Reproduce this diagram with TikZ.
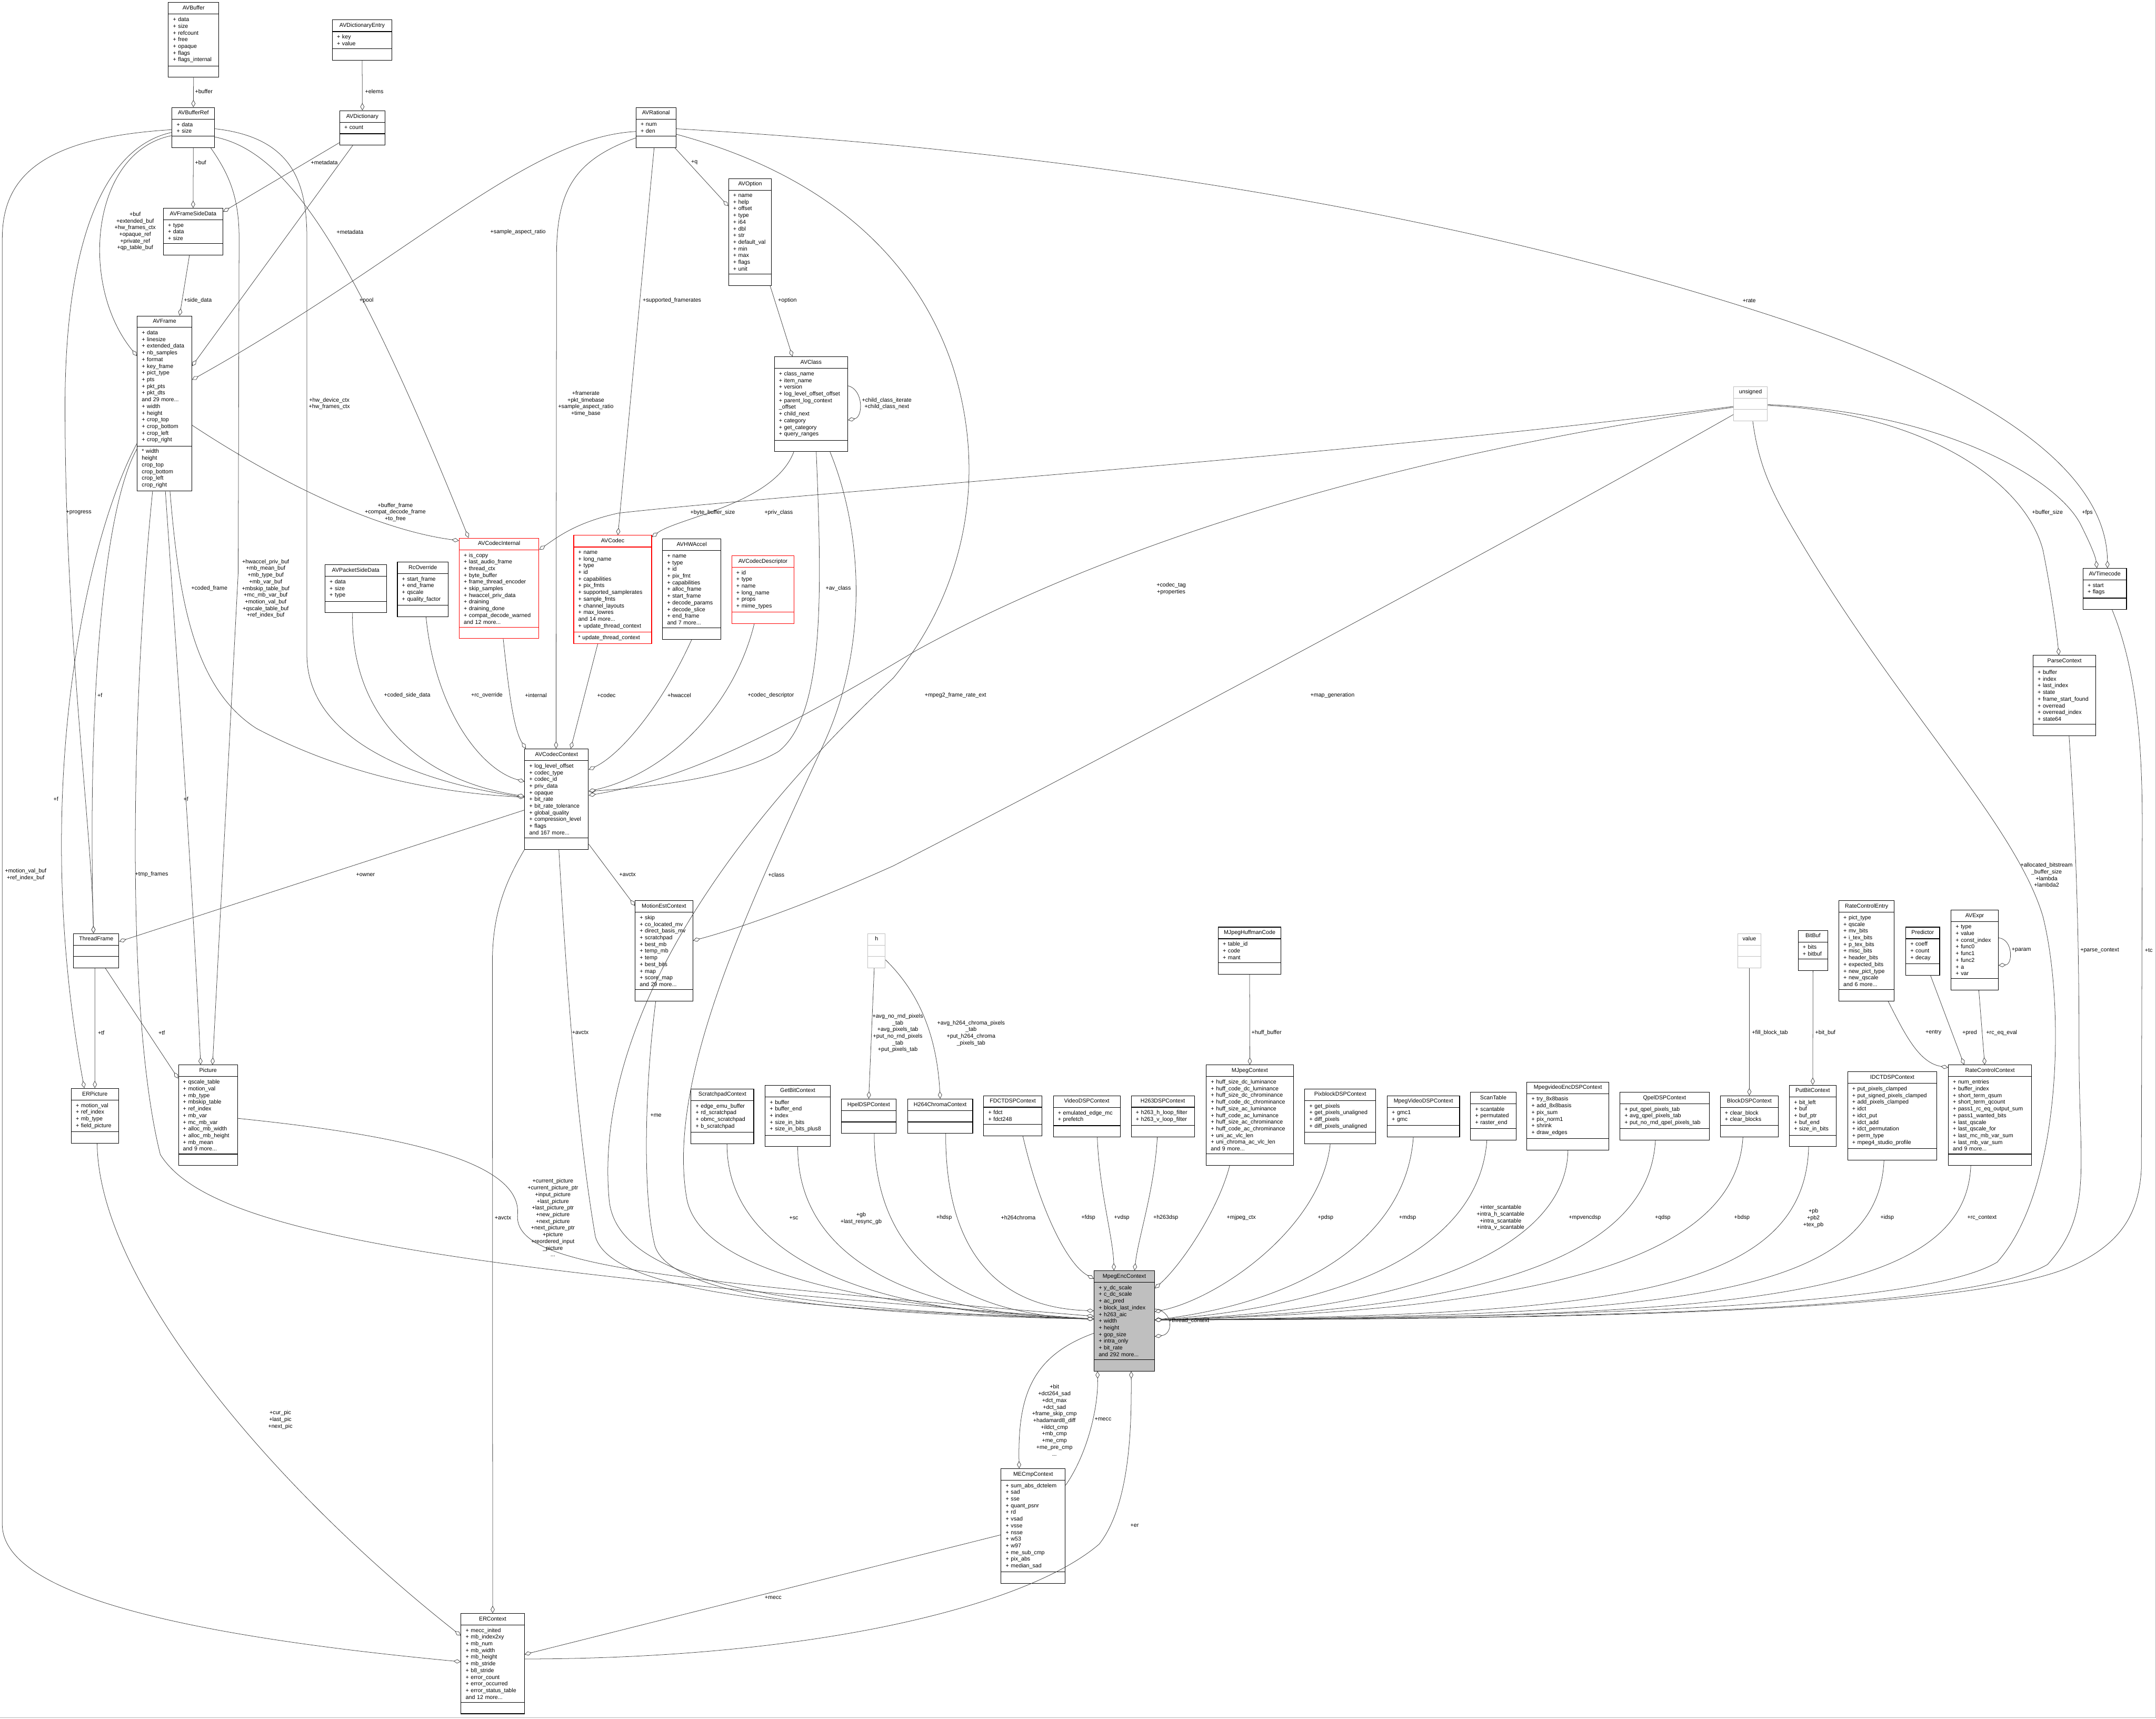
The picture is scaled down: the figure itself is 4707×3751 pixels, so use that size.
\documentclass[tikz,border=0pt]{standalone}
\usepackage{fontspec}
\setmainfont{Liberation Sans}
\usetikzlibrary{arrows.meta,calc,shapes.multipart}
\hyphenpenalty=10000
\exhyphenpenalty=10000
\newcommand\dxfont{\fontsize{7pt}{8.31pt}\selectfont}
\newcommand\nil{\vphantom{Ag}}
\newcommand\ctitle[1]{\centering #1\par}
\tikzset{
  cls/.style={rectangle split, rectangle split parts=3, draw=black, line width=0.7pt,
    fill=white, anchor=north west, inner xsep=2mm, inner ysep=3.6pt,
    font=\dxfont, execute at begin node=\nil,
    rectangle split empty part height=5pt, rectangle split empty part depth=1.5pt},
  redcls/.style={cls, draw=red},
  extcls/.style={cls, draw=black!25},
  hubcls/.style={cls, fill=black!25},
  agg/.style={draw=black!75, line width=0.5pt,
    -{Diamond[fill=white, length=3.2mm, width=1.8mm]}},
  elabel/.style={font=\dxfont, align=center, inner sep=0pt},
}
\begin{document}
\catcode`\_=12
\begin{tikzpicture}[x=0.2mm, y=-0.2mm]
  \useasboundingbox (0,0) rectangle (4707,3751);
  \draw[black!30, line width=0.6pt] (0,3749) -- (4706,3749) -- (4706,0);

  % classes, top part
  \node[cls, text width=18mm] (avbuffer) at (367,5) {\ctitle{AVBuffer}\nodepart{two}\nil+ data\\+ size\\+ refcount\\+ free\\+ opaque\\+ flags\\+ flags_internal\nodepart{three}\nil};
  \node[cls, text width=22mm] (avdictentry) at (725,43) {\ctitle{AVDictionaryEntry}\nodepart{two}\nil+ key\\+ value\nodepart{three}\nil};
  \node[cls, text width=14.6mm] (avbufref) at (375,234) {\ctitle{AVBufferRef}\nodepart{two}\nil+ data\\+ size\nodepart{three}\nil};
  \node[cls, text width=15.8mm] (avdict) at (741,241) {\ctitle{AVDictionary}\nodepart{two}\nil+ count\nodepart{three}\nil};
  \node[cls, text width=22mm] (sidedata) at (356,454) {\ctitle{AVFrameSideData}\nodepart{two}\nil+ type\\+ data\\+ size\nodepart{three}\nil};
  \node[cls, text width=19.8mm] (avframe) at (299,689) {\ctitle{AVFrame}\nodepart{two}\nil+ data\\+ linesize\\+ extended_data\\+ nb_samples\\+ format\\+ key_frame\\+ pict_type\\+ pts\\+ pkt_pts\\+ pkt_dts\\and 29 more...\\+ width\\+ height\\+ crop_top\\+ crop_bottom\\+ crop_left\\+ crop_right\nodepart{three}\nil* width\\* height\\* crop_top\\* crop_bottom\\* crop_left\\* crop_right};
  \node[cls, text width=13.4mm] (avrational) at (1388,234) {\ctitle{AVRational}\nodepart{two}\nil+ num\\+ den\nodepart{three}\nil};
  \node[cls, text width=14.8mm] (avoption) at (1590,389) {\ctitle{AVOption}\nodepart{two}\nil+ name\\+ help\\+ offset\\+ type\\+ i64\\+ dbl\\+ str\\+ default_val\\+ min\\+ max\\+ flags\\+ unit\nodepart{three}\nil};
  \node[cls, text width=28mm] (avclass) at (1690,778) {\ctitle{AVClass}\nodepart{two}\nil+ class_name\\+ item_name\\+ version\\+ log_level_offset_offset\\+ parent_log_context\\_offset\\+ child_next\\+ category\\+ get_category\\+ query_ranges\nodepart{three}\nil};
  \node[extcls, text width=10.8mm] (unsigned) at (3784,843) {\ctitle{unsigned}\nodepart{two}\nil\nodepart{three}\nil};
  \node[cls, text width=15mm] (avtimecode) at (4547,1240) {\ctitle{AVTimecode}\nodepart{two}\nil+ start\\+ flags\nodepart{three}\nil};
  \node[cls, text width=23.4mm] (parsectx) at (4438,1430) {\ctitle{ParseContext}\nodepart{two}\nil+ buffer\\+ index\\+ last_index\\+ state\\+ frame_start_found\\+ overread\\+ overread_index\\+ state64\nodepart{three}\nil};

  % codec layer
  \node[redcls, text width=30.8mm] (avcodecinternal) at (1002,1174) {\ctitle{AVCodecInternal}\nodepart{two}\nil+ is_copy\\+ last_audio_frame\\+ thread_ctx\\+ byte_buffer\\+ frame_thread_encoder\\+ skip_samples\\+ hwaccel_priv_data\\+ draining\\+ draining_done\\+ compat_decode_warned\\and 12 more...\nodepart{three}\nil};
  \node[cls, text width=22.8mm] (pktsidedata) at (709,1232) {\ctitle{AVPacketSideData}\nodepart{two}\nil+ data\\+ size\\+ type\nodepart{three}\nil};
  \node[cls, text width=18.2mm] (rcoverride) at (867,1226) {\ctitle{RcOverride}\nodepart{two}\nil+ start_frame\\+ end_frame\\+ qscale\\+ quality_factor\nodepart{three}\nil};
  \node[redcls, text width=30mm] (avcodec) at (1252,1168) {\ctitle{AVCodec}\nodepart{two}\nil+ name\\+ long_name\\+ type\\+ id\\+ capabilities\\+ pix_fmts\\+ supported_samplerates\\+ sample_fmts\\+ channel_layouts\\+ max_lowres\\and 14 more...\\+ update_thread_context\nodepart{three}\nil* update_thread_context};
  \node[cls, text width=21.4mm] (avhwaccel) at (1446,1176) {\ctitle{AVHWAccel}\nodepart{two}\nil+ name\\+ type\\+ id\\+ pix_fmt\\+ capabilities\\+ alloc_frame\\+ start_frame\\+ decode_params\\+ decode_slice\\+ end_frame\\and 7 more...\nodepart{three}\nil};
  \node[redcls, text width=23.2mm] (avcodecdesc) at (1597,1212) {\ctitle{AVCodecDescriptor}\nodepart{two}\nil+ id\\+ type\\+ name\\+ long_name\\+ props\\+ mime_types\nodepart{three}\nil};
  \node[cls, text width=23.8mm] (avcodecctx) at (1145,1634) {\ctitle{AVCodecContext}\nodepart{two}\nil+ log_level_offset\\+ codec_type\\+ codec_id\\+ priv_data\\+ opaque\\+ bit_rate\\+ bit_rate_tolerance\\+ global_quality\\+ compression_level\\+ flags\\and 167 more...\nodepart{three}\nil};

  % middle row
  \node[cls, text width=15.8mm] (threadframe) at (160,2037) {\ctitle{ThreadFrame}\nodepart{two}\nil\nodepart{three}\nil};
  \node[cls, text width=16.6mm] (erpicture) at (155,2375) {\ctitle{ERPicture}\nodepart{two}\nil+ motion_val\\+ ref_index\\+ mb_type\\+ field_picture\nodepart{three}\nil};
  \node[cls, text width=21.8mm] (picture) at (389,2324) {\ctitle{Picture}\nodepart{two}\nil+ qscale_table\\+ motion_val\\+ mb_type\\+ mbskip_table\\+ ref_index\\+ mb_var\\+ mc_mb_var\\+ alloc_mb_width\\+ alloc_mb_height\\+ mb_mean\\and 9 more...\nodepart{three}\nil};
  \node[cls, text width=21.2mm] (motionest) at (1386,1965) {\ctitle{MotionEstContext}\nodepart{two}\nil+ skip\\+ co_located_mv\\+ direct_basis_mv\\+ scratchpad\\+ best_mb\\+ temp_mb\\+ temp\\+ best_bits\\+ map\\+ score_map\\and 29 more...\nodepart{three}\nil};
  \node[extcls, text width=3.6mm] (hnode) at (1894,2037) {\ctitle{h}\nodepart{two}\nil\nodepart{three}\nil};
  \node[cls, text width=23.4mm] (mjpeghuff) at (2659,2023) {\ctitle{MJpegHuffmanCode}\nodepart{two}\nil+ table_id\\+ code\\+ mant\nodepart{three}\nil};
  \node[extcls, text width=7mm, inner xsep=1.6mm] (valuenode) at (3793,2037) {\ctitle{value}\nodepart{two}\nil\nodepart{three}\nil};
  \node[cls, text width=9mm] (bitbuf) at (3925,2030) {\ctitle{BitBuf}\nodepart{two}\nil+ bits\\+ bitbuf\nodepart{three}\nil};
  \node[cls, text width=20.2mm] (rcentry) at (4014,1965) {\ctitle{RateControlEntry}\nodepart{two}\nil+ pict_type\\+ qscale\\+ mv_bits\\+ i_tex_bits\\+ p_tex_bits\\+ misc_bits\\+ header_bits\\+ expected_bits\\+ new_pict_type\\+ new_qscale\\and 6 more...\nodepart{three}\nil};
  \node[cls, text width=10.8mm] (predictor) at (4160,2023) {\ctitle{Predictor}\nodepart{two}\nil+ coeff\\+ count\\+ decay\nodepart{three}\nil};
  \node[cls, text width=16.6mm] (avexpr) at (4259,1986) {\ctitle{AVExpr}\nodepart{two}\nil+ type\\+ value\\+ const_index\\+ func0\\+ func1\\+ func2\\+ a\\+ var\nodepart{three}\nil};

  % lower row
  \node[cls, text width=23.4mm] (scratchpad) at (1508,2376) {\ctitle{ScratchpadContext}\nodepart{two}\nil+ edge_emu_buffer\\+ rd_scratchpad\\+ obmc_scratchpad\\+ b_scratchpad\nodepart{three}\nil};
  \node[cls, text width=24.4mm] (getbit) at (1670,2368) {\ctitle{GetBitContext}\nodepart{two}\nil+ buffer\\+ buffer_end\\+ index\\+ size_in_bits\\+ size_in_bits_plus8\nodepart{three}\nil};
  \node[cls, text width=20mm] (hpeldsp) at (1836,2398) {\ctitle{HpelDSPContext}\nodepart{two}\nil\nodepart{three}\nil};
  \node[cls, text width=24.4mm] (h264chroma) at (1981,2398) {\ctitle{H264ChromaContext}\nodepart{two}\nil\nodepart{three}\nil};
  \node[cls, text width=21.4mm] (fdctdsp) at (2147,2391) {\ctitle{FDCTDSPContext}\nodepart{two}\nil+ fdct\\+ fdct248\nodepart{three}\nil};
  \node[cls, text width=25.2mm] (videodsp) at (2299,2391) {\ctitle{VideoDSPContext}\nodepart{two}\nil+ emulated_edge_mc\\+ prefetch\nodepart{three}\nil};
  \node[cls, text width=23.6mm] (h263dsp) at (2469,2391) {\ctitle{H263DSPContext}\nodepart{two}\nil+ h263_h_loop_filter\\+ h263_v_loop_filter\nodepart{three}\nil};
  \node[cls, text width=34mm] (mjpeg) at (2633,2324) {\ctitle{MJpegContext}\nodepart{two}\nil+ huff_size_dc_luminance\\+ huff_code_dc_luminance\\+ huff_size_dc_chrominance\\+ huff_code_dc_chrominance\\+ huff_size_ac_luminance\\+ huff_code_ac_luminance\\+ huff_size_ac_chrominance\\+ huff_code_ac_chrominance\\+ uni_ac_vlc_len\\+ uni_chroma_ac_vlc_len\\and 9 more...\nodepart{three}\nil};
  \node[cls, text width=27mm] (pixblock) at (2848,2376) {\ctitle{PixblockDSPContext}\nodepart{two}\nil+ get_pixels\\+ get_pixels_unaligned\\+ diff_pixels\\+ diff_pixels_unaligned\nodepart{three}\nil};
  \node[cls, text width=27.6mm] (mpegvideodsp) at (3028,2391) {\ctitle{MpegVideoDSPContext}\nodepart{two}\nil+ gmc1\\+ gmc\nodepart{three}\nil};
  \node[cls, text width=15.8mm] (scantable) at (3210,2383) {\ctitle{ScanTable}\nodepart{two}\nil+ scantable\\+ permutated\\+ raster_end\nodepart{three}\nil};
  \node[cls, text width=31.8mm] (mpvencdsp) at (3333,2361) {\ctitle{MpegvideoEncDSPContext}\nodepart{two}\nil+ try_8x8basis\\+ add_8x8basis\\+ pix_sum\\+ pix_norm1\\+ shrink\\+ draw_edges\nodepart{three}\nil};
  \node[cls, text width=35mm] (qpeldsp) at (3536,2383) {\ctitle{QpelDSPContext}\nodepart{two}\nil+ put_qpel_pixels_tab\\+ avg_qpel_pixels_tab\\+ put_no_rnd_qpel_pixels_tab\nodepart{three}\nil};
  \node[cls, text width=21.4mm] (blockdsp) at (3755,2391) {\ctitle{BlockDSPContext}\nodepart{two}\nil+ clear_block\\+ clear_blocks\nodepart{three}\nil};
  \node[cls, text width=16.4mm] (putbit) at (3906,2368) {\ctitle{PutBitContext}\nodepart{two}\nil+ bit_left\\+ buf\\+ buf_ptr\\+ buf_end\\+ size_in_bits\nodepart{three}\nil};
  \node[cls, text width=35mm] (idctdsp) at (4033,2339) {\ctitle{IDCTDSPContext}\nodepart{two}\nil+ put_pixels_clamped\\+ put_signed_pixels_clamped\\+ add_pixels_clamped\\+ idct\\+ idct_put\\+ idct_add\\+ idct_permutation\\+ perm_type\\+ mpeg4_studio_profile\nodepart{three}\nil};
  \node[cls, text width=32.4mm] (rcctx) at (4253,2324) {\ctitle{RateControlContext}\nodepart{two}\nil+ num_entries\\+ buffer_index\\+ short_term_qsum\\+ short_term_qcount\\+ pass1_rc_eq_output_sum\\+ pass1_wanted_bits\\+ last_qscale\\+ last_qscale_for\\+ last_mc_mb_var_sum\\+ last_mb_var_sum\\and 9 more...\nodepart{three}\nil};

  % bottom
  \node[hubcls, text width=22.4mm] (mpegenc) at (2388,2773) {\ctitle{MpegEncContext}\nodepart{two}\nil+ y_dc_scale\\+ c_dc_scale\\+ ac_pred\\+ block_last_index\\+ h263_aic\\+ width\\+ height\\+ gop_size\\+ intra_only\\+ bit_rate\\and 292 more...\nodepart{three}\nil};
  \node[cls, text width=24mm] (mecmp) at (2185,3205) {\ctitle{MECmpContext}\nodepart{two}\nil+ sum_abs_dctelem\\+ sad\\+ sse\\+ quant_psnr\\+ rd\\+ vsad\\+ vsse\\+ nsse\\+ w53\\+ w97\\+ me_sub_cmp\\+ pix_abs\\+ median_sad\nodepart{three}\nil};
  \node[cls, text width=23.6mm] (ercontext) at (1006,3521) {\ctitle{ERContext}\nodepart{two}\nil+ mecc_inited\\+ mb_index2xy\\+ mb_num\\+ mb_width\\+ mb_height\\+ mb_stride\\+ b8_stride\\+ error_count\\+ error_occurred\\+ error_status_table\\and 12 more...\nodepart{three}\nil};

  % buffers, frames, dictionaries
  \draw[agg] (avbuffer.south) -- (avbufref.north);
  \draw[agg] (avdictentry.south) -- (avdict.north);
  \draw[agg] (avbufref.south) -- (sidedata.north);
  \draw[agg] ($(avdict.south west)+(0,-6)$) -- ($(sidedata.north east)+(0,8)$);
  \draw[agg] ($(sidedata.south)+(-8,0)$) -- ($(avframe.north)+(33,0)$);
  \draw[agg] ($(avbufref.north west)+(0,62)$) .. controls (200,330) and (170,620) .. ($(avframe.north west)+(0,88)$);
  \draw[agg] ($(avdict.south)+(-21,0)$) -- ($(avframe.north east)+(0,110)$);
  \draw[agg] ($(avrational.north west)+(0,53)$) .. controls (1150,300) and (900,560) .. ($(avframe.north east)+(0,140)$);
  \draw[agg] ($(avbufref.north east)+(0,65)$) .. controls (620,330) and (760,520) .. ($(avcodecinternal.north west)+(21,0)$);
  \draw[agg] ($(avframe.north east)+(0,239)$) .. controls (650,1080) and (850,1160) .. ($(avcodecinternal.north west)+(0,6)$);
  \draw[agg] ($(avbufref.north east)+(0,47)$) .. controls (640,300) and (670,400) .. (670,520) -- (670,1430) .. controls (672,1650) and (1000,1720) .. ($(avcodecctx.north west)+(0,106)$);
  \draw[agg] ($(avbufref.south east)+(-9,0)$) .. controls (500,380) and (522,430) .. (522,520) -- (520,1250) -- ($(picture.north west)+(75,0)$);
  \draw[agg] ($(avbufref.north west)+(0,49)$) .. controls (100,300) and (5,380) .. (5,520) -- (5,3330) .. controls (10,3480) and (400,3570) .. ($(ercontext.north west)+(0,106)$);
  \draw[agg] ($(avbufref.north west)+(0,55)$) .. controls (230,320) and (140,520) .. (142,900) .. controls (143,1400) and (200,1800) .. ($(threadframe.north)+(-6,0)$);
  \draw[agg] ($(avframe.north west)+(0,291)$) .. controls (230,1100) and (190,1500) .. ($(threadframe.north)+(-6,0)$);
  \draw[agg] ($(avframe.north west)+(0,279)$) .. controls (200,1150) and (60,1700) .. ($(erpicture.north west)+(29,0)$);
  \draw[agg] ($(avframe.south)+(2,0)$) .. controls (368,1180) and (420,1900) .. ($(picture.north west)+(49,0)$);
  \draw[agg] ($(avframe.south)+(-26,0)$) .. controls (290,1500) and (270,2200) .. (350,2520) .. controls (450,2680) and (900,2770) .. ($(mpegenc.north west)+(0,106)$);
  \draw[agg] ($(avframe.south)+(12,0)$) .. controls (390,1300) and (420,1500) .. (560,1590) .. controls (750,1690) and (950,1730) .. ($(avcodecctx.north west)+(0,106)$);
  \draw[agg] ($(avcodecctx.north west)+(0,134)$) -- ($(threadframe.north east)+(0,18)$);
  \draw[agg] ($(threadframe.south)+(-3,0)$) -- (erpicture.north);
  \draw[agg] ($(threadframe.south)+(20,0)$) -- ($(picture.north west)+(0,30)$);
  \draw[agg] ($(erpicture.south)+(5,0)$) .. controls (215,2800) and (600,3250) .. ($(ercontext.north west)+(0,49)$);
  \draw[agg] ($(picture.north east)+(0,117)$) .. controls (800,2470) and (1140,2520) .. (1130,2650) .. controls (1120,2760) and (1400,2790) .. ($(mpegenc.north west)+(0,100)$);

  % codec context
  \draw[agg] (avcodecctx.south west) .. controls (1100,1930) and (1075,2000) .. (1075,2100) -- (ercontext.north);
  \draw[agg] ($(avcodecctx.south)+(5,0)$) .. controls (1240,2200) and (1265,2500) .. (1300,2700) .. controls (1340,2830) and (1800,2860) .. ($(mpegenc.north west)+(0,106)$);
  \draw[agg] ($(avcodecctx.south east)+(0,-12)$) -- ($(motionest.north west)+(0,12)$);
  \draw[agg] ($(avcodecinternal.south)+(9,0)$) .. controls (1110,1500) and (1120,1590) .. ($(avcodecctx.north west)+(3,0)$);
  \draw[agg] ($(pktsidedata.south)+(-7,0)$) .. controls (765,1550) and (900,1700) .. ($(avcodecctx.north west)+(0,104)$);
  \draw[agg] ($(rcoverride.south)+(7,0)$) .. controls (950,1550) and (1050,1680) .. ($(avcodecctx.north west)+(0,72)$);
  \draw[agg] ($(avcodec.south west)+(53,0)$) -- ($(avcodecctx.north west)+(101,0)$);
  \draw[agg] ($(avrational.north west)+(0,67)$) .. controls (1250,350) and (1215,420) .. (1215,560) -- ($(avcodecctx.north west)+(69,0)$);
  \draw[agg] ($(avrational.south)+(-4,0)$) -- ($(avcodec.north west)+(97,0)$);
  \draw[agg] ($(avrational.south east)+(-3,0)$) -- ($(avoption.north west)+(0,61)$);
  \draw[agg] ($(avrational.north east)+(0,47)$) .. controls (2500,340) and (3300,500) .. (3900,700) .. controls (4400,870) and (4600,1050) .. ($(avtimecode.north west)+(54,0)$);
  \draw[agg] ($(avrational.north east)+(0,59)$) .. controls (1800,380) and (2000,560) .. (2080,800) .. controls (2160,1050) and (2100,1300) .. (1950,1480) .. controls (1500,1900) and (1300,2300) .. (1330,2620) .. controls (1350,2820) and (1800,2860) .. ($(mpegenc.north west)+(0,106)$);
  \draw[agg] ($(avoption.south east)+(-4,0)$) -- ($(avclass.north west)+(40,0)$);
  \draw[agg] ($(avclass.north east)+(0,64)$) .. controls (1885,850) and (1885,910) .. ($(avclass.north east)+(0,139)$);
  \draw[agg] ($(avclass.south west)+(43,0)$) .. controls (1690,1100) and (1480,1130) .. ($(avcodec.north east)+(0,4)$);
  \draw[agg] ($(avclass.south west)+(92,0)$) .. controls (1795,1300) and (1800,1560) .. (1700,1640) .. controls (1600,1700) and (1400,1720) .. ($(avcodecctx.north east)+(0,93)$);
  \draw[agg] ($(avclass.south west)+(122,0)$) .. controls (1880,1150) and (1900,1400) .. (1800,1620) .. controls (1650,1950) and (1450,2350) .. (1500,2620) .. controls (1540,2800) and (2000,2860) .. ($(mpegenc.north west)+(0,106)$);
  \draw[agg] (avhwaccel.south) .. controls (1440,1550) and (1350,1650) .. ($(avcodecctx.north east)+(0,46)$);
  \draw[agg] ($(avcodecdesc.south)+(-19,0)$) .. controls (1600,1550) and (1450,1690) .. ($(avcodecctx.north east)+(0,93)$);

  % unsigned
  \draw[agg] ($(unsigned.north west)+(0,44)$) .. controls (3000,990) and (1700,1080) .. (1350,1120) .. controls (1260,1140) and (1220,1170) .. ($(avcodecinternal.north east)+(0,26)$);
  \draw[agg] ($(unsigned.north west)+(0,46)$) .. controls (3000,1000) and (2400,1200) .. (2000,1420) .. controls (1700,1600) and (1500,1700) .. ($(avcodecctx.north east)+(0,102)$);
  \draw[agg] ($(unsigned.north west)+(0,62)$) .. controls (3300,1180) and (2400,1660) .. (1950,1890) .. controls (1750,1980) and (1600,2030) .. ($(motionest.north east)+(0,88)$);
  \draw[agg] ($(unsigned.north east)+(0,42)$) .. controls (4200,900) and (4420,1050) .. (4460,1200) .. controls (4480,1300) and (4490,1380) .. ($(parsectx.north west)+(57,0)$);
  \draw[agg] ($(unsigned.north east)+(0,40)$) .. controls (4250,900) and (4500,1050) .. (4545,1150) .. controls (4565,1190) and (4575,1215) .. ($(avtimecode.north west)+(31,0)$);
  \draw[agg] ($(unsigned.south)+(5,0)$) .. controls (3840,1020) and (3870,1080) .. (3930,1180) .. controls (4150,1550) and (4400,1800) .. (4460,2000) .. controls (4510,2200) and (4500,2600) .. (4360,2755) .. controls (4200,2850) and (3500,2875) .. ($(mpegenc.north east)+(0,108)$);
  \draw[agg] ($(parsectx.south)+(10,0)$) .. controls (4530,1800) and (4539,2000) .. (4539,2300) .. controls (4539,2550) and (4570,2650) .. (4470,2760) .. controls (4300,2860) and (3500,2878) .. ($(mpegenc.north east)+(0,108)$);
  \draw[agg] ($(avtimecode.south)+(16,0)$) .. controls (4660,1450) and (4677,1600) .. (4677,1800) -- (4675,2550) .. controls (4670,2660) and (4620,2720) .. (4520,2765) .. controls (4300,2860) and (3500,2880) .. ($(mpegenc.north east)+(0,108)$);

  % small helpers
  \draw[agg] ($(rcentry.south)+(47,0)$) .. controls (4160,2260) and (4190,2320) .. ($(rcctx.north west)+(0,6)$);
  \draw[agg] ($(predictor.south)+(17,0)$) -- ($(rcctx.north west)+(35,0)$);
  \draw[agg] ($(avexpr.south)+(9,0)$) -- ($(rcctx.north west)+(80,0)$);
  \draw[agg] ($(avexpr.north east)+(0,61)$) .. controls (4395,2050) and (4395,2105) .. ($(avexpr.north east)+(0,121)$);
  \draw[agg] (valuenode.south) -- (blockdsp.north);
  \draw[agg] (bitbuf.south) -- (putbit.north);
  \draw[agg] (mjpeghuff.south) -- (mjpeg.north);
  \draw[agg] ($(hnode.south)+(-5,0)$) -- (hpeldsp.north);
  \draw[agg] ($(hnode.north east)+(0,58)$) .. controls (2000,2160) and (2045,2250) .. (h264chroma.north);

  % into MpegEncContext, left side
  \draw[agg] ($(motionest.south)+(-18,0)$) .. controls (1410,2350) and (1400,2600) .. (1430,2720) .. controls (1470,2840) and (1900,2870) .. ($(mpegenc.north west)+(0,106)$);
  \draw[agg] ($(scratchpad.south)+(10,0)$) .. controls (1587,2750) and (1907,2870) .. ($(mpegenc.north west)+(0,106)$);
  \draw[agg] (getbit.south) .. controls (1741,2750) and (1999,2870) .. ($(mpegenc.north west)+(0,106)$);
  \draw[agg] ($(hpeldsp.south)+(12,0)$) .. controls (1908,2750) and (2100,2870) .. ($(mpegenc.north west)+(0,106)$);
  \draw[agg] ($(h264chroma.south)+(12,0)$) .. controls (2064,2750) and (2194,2855) .. ($(mpegenc.north west)+(0,88)$);
  \draw[agg] ($(fdctdsp.south)+(22,0)$) .. controls (2270,2640) and (2330,2760) .. ($(mpegenc.north west)+(0,18)$);
  \draw[agg] ($(videodsp.south)+(23,0)$) .. controls (2400,2600) and (2430,2700) .. ($(mpegenc.north west)+(44,0)$);
  \draw[agg] ($(h263dsp.south)+(-12,0)$) .. controls (2520,2600) and (2485,2700) .. ($(mpegenc.north west)+(89,0)$);

  % into MpegEncContext, right side
  \draw[agg] ($(mjpeg.south)+(-44,0)$) .. controls (2660,2640) and (2580,2760) .. ($(mpegenc.north east)+(0,39)$);
  \draw[agg] ($(pixblock.south)+(-22,0)$) .. controls (2885,2680) and (2660,2835) .. ($(mpegenc.north east)+(0,90)$);
  \draw[agg] ($(mpegvideodsp.south)+(-22,0)$) .. controls (3070,2700) and (2850,2840) .. ($(mpegenc.north east)+(0,108)$);
  \draw[agg] ($(scantable.south)+(-14,0)$) .. controls (3230,2720) and (2950,2850) .. ($(mpegenc.north east)+(0,108)$);
  \draw[agg] (mpvencdsp.south) .. controls (3420,2720) and (3100,2860) .. ($(mpegenc.north east)+(0,108)$);
  \draw[agg] ($(qpeldsp.south)+(-20,0)$) .. controls (3600,2740) and (3250,2860) .. ($(mpegenc.north east)+(0,108)$);
  \draw[agg] ($(blockdsp.south)+(-14,0)$) .. controls (3790,2740) and (3400,2860) .. ($(mpegenc.north east)+(0,108)$);
  \draw[agg] ($(putbit.south)+(-9,0)$) .. controls (3940,2830) and (3500,2870) .. ($(mpegenc.north east)+(0,108)$);
  \draw[agg] ($(idctdsp.south)+(-18,0)$) .. controls (4100,2840) and (3630,2872) .. ($(mpegenc.north east)+(0,108)$);
  \draw[agg] ($(rcctx.south)+(-42,0)$) .. controls (4290,2845) and (3760,2875) .. ($(mpegenc.north east)+(0,108)$);
  \draw[agg] ($(mpegenc.north east)+(0,84)$) .. controls (2562,2862) and (2562,2912) .. ($(mpegenc.north east)+(0,144)$);

  % below MpegEncContext
  \draw[agg] ($(mpegenc.north west)+(0,137)$) .. controls (2250,2960) and (2222,3050) .. ($(mecmp.north west)+(40,0)$);
  \draw[agg] ($(mecmp.north east)+(0,37)$) .. controls (2370,3180) and (2398,3080) .. ($(mpegenc.south west)+(8,0)$);
  \draw[agg] ($(ercontext.north east)+(0,100)$) .. controls (1800,3620) and (2250,3500) .. (2400,3370) .. controls (2470,3280) and (2470,3100) .. ($(mpegenc.south)+(15,0)$);
  \draw[agg] ($(mecmp.north west)+(0,145)$) -- ($(ercontext.north east)+(0,90)$);

  % labels
  \node[elabel] (lbuffer) at (445,200) {+buffer};
  \node[elabel] (lelems) at (817,200) {+elems};
  \node[elabel] (lbuf) at (438,355) {+buf};
  \node[elabel] (lmetaside) at (708,355) {+metadata};
  \node[elabel] (lsidedata) at (432,656) {+side_data};
  \node[elabel] (lframebufs) at (295,505) {+buf\\+extended_buf\\+hw_frames_ctx\\+opaque_ref\\+private_ref\\+qp_table_buf};
  \node[elabel] (lmetaframe) at (764,506) {+metadata};
  \node[elabel] (lsar) at (1131,506) {+sample_aspect_ratio};
  \node[elabel] (lpool) at (800,656) {+pool};
  \node[elabel] (lbufframe) at (863,1118) {+buffer_frame\\+compat_decode_frame\\+to_free};
  \node[elabel] (lhwctx) at (719,881) {+hw_device_ctx\\+hw_frames_ctx};
  \node[elabel] (lpicbufs) at (580,1285) {+hwaccel_priv_buf\\+mb_mean_buf\\+mb_type_buf\\+mb_var_buf\\+mbskip_table_buf\\+mc_mb_var_buf\\+motion_val_buf\\+qscale_table_buf\\+ref_index_buf};
  \node[elabel] (lprogress) at (172,1119) {+progress};
  \node[elabel] (lftf) at (218,1518) {+f};
  \node[elabel] (lfer) at (122,1744) {+f};
  \node[elabel] (lfpic) at (406,1744) {+f};
  \node[elabel] (lcodedframe) at (457,1284) {+coded_frame};
  \node[elabel] (lerbufs) at (56,1909) {+motion_val_buf\\+ref_index_buf};
  \node[elabel] (ltmpframes) at (331,1909) {+tmp_frames};
  \node[elabel] (lowner) at (798,1909) {+owner};
  \node[elabel] (ltfer) at (221,2254) {+tf};
  \node[elabel] (ltfpic) at (353,2254) {+tf};
  \node[elabel] (lcurpic) at (612,3099) {+cur_pic\\+last_pic\\+next_pic};
  \node[elabel] (lpictures) at (1207,2658) {+current_picture\\+current_picture_ptr\\+input_picture\\+last_picture\\+last_picture_ptr\\+new_picture\\+next_picture\\+next_picture_ptr\\+picture\\+reordered_input\\_picture\\...};
  \node[elabel] (lavctxer) at (1098,2658) {+avctx};
  \node[elabel] (lavctxmpeg) at (1267,2254) {+avctx};
  \node[elabel] (lavctxme) at (1370,1909) {+avctx};
  \node[elabel] (linternal) at (1170,1518) {+internal};
  \node[elabel] (lsidedatactx) at (889,1518) {+coded_side_data};
  \node[elabel] (lrcoverride) at (1063,1518) {+rc_override};
  \node[elabel] (lcodec) at (1324,1518) {+codec};
  \node[elabel] (lframerate) at (1279,881) {+framerate\\+pkt_timebase\\+sample_aspect_ratio\\+time_base};
  \node[elabel] (lsuppfr) at (1467,656) {+supported_framerates};
  \node[elabel] (lq) at (1516,355) {+q};
  \node[elabel] (lrate) at (3819,656) {+rate};
  \node[elabel] (lmpeg2) at (2086,1518) {+mpeg2_frame_rate_ext};
  \node[elabel] (loption) at (1719,656) {+option};
  \node[elabel] (lchild) at (1936,881) {+child_class_iterate\\+child_class_next};
  \node[elabel] (lprivclass) at (1700,1119) {+priv_class};
  \node[elabel] (lbytebuf) at (1556,1119) {+byte_buffer_size};
  \node[elabel] (lhwaccel) at (1483,1518) {+hwaccel};
  \node[elabel] (lcodecdesc) at (1683,1518) {+codec_descriptor};
  \node[elabel] (lavclass) at (1830,1284) {+av_class};
  \node[elabel] (lcodectag) at (2557,1285) {+codec_tag\\+properties};
  \node[elabel] (lmapgen) at (2909,1518) {+map_generation};
  \node[elabel] (lclass) at (1695,1909) {+class};
  \node[elabel] (lbufsize) at (4470,1119) {+buffer_size};
  \node[elabel] (lfps) at (4557,1119) {+fps};
  \node[elabel] (lalloc) at (4468,1910) {+allocated_bitstream\\_buffer_size\\+lambda\\+lambda2};
  \node[elabel] (lparse) at (4584,2074) {+parse_context};
  \node[elabel] (ltc) at (4691,2074) {+tc};
  \node[elabel] (lentry) at (4221,2254) {+entry};
  \node[elabel] (lpred) at (4300,2254) {+pred};
  \node[elabel] (lrceq) at (4370,2254) {+rc_eq_eval};
  \node[elabel] (lparam) at (4413,2074) {+param};
  \node[elabel] (lfillblock) at (3864,2254) {+fill_block_tab};
  \node[elabel] (lbitbuf) at (3985,2254) {+bit_buf};
  \node[elabel] (lhuff) at (2765,2254) {+huff_buffer};
  \node[elabel] (lhpeltabs) at (1960,2255) {+avg_no_rnd_pixels\\_tab\\+avg_pixels_tab\\+put_no_rnd_pixels\\_tab\\+put_pixels_tab};
  \node[elabel] (lchromatabs) at (2120,2255) {+avg_h264_chroma_pixels\\_tab\\+put_h264_chroma\\_pixels_tab};
  \node[elabel] (lme) at (1432,2434) {+me};
  \node[elabel] (lsc) at (1733,2658) {+sc};
  \node[elabel] (lgb) at (1880,2659) {+gb\\+last_resync_gb};
  \node[elabel] (lhdsp) at (2061,2658) {+hdsp};
  \node[elabel] (lh264chroma) at (2223,2658) {+h264chroma};
  \node[elabel] (lfdsp) at (2376,2658) {+fdsp};
  \node[elabel] (lvdsp) at (2449,2658) {+vdsp};
  \node[elabel] (lh263dsp) at (2545,2658) {+h263dsp};
  \node[elabel] (lmjpeg) at (2710,2658) {+mjpeg_ctx};
  \node[elabel] (lpdsp) at (2894,2658) {+pdsp};
  \node[elabel] (lmdsp) at (3073,2658) {+mdsp};
  \node[elabel] (lscan) at (3276,2658) {+inter_scantable\\+intra_h_scantable\\+intra_scantable\\+intra_v_scantable};
  \node[elabel] (lmpvenc) at (3460,2658) {+mpvencdsp};
  \node[elabel] (lqdsp) at (3630,2658) {+qdsp};
  \node[elabel] (lbdsp) at (3803,2658) {+bdsp};
  \node[elabel] (lpb) at (3959,2659) {+pb\\+pb2\\+tex_pb};
  \node[elabel] (lidsp) at (4120,2658) {+idsp};
  \node[elabel] (lrcctx) at (4327,2658) {+rc_context};
  \node[elabel] (lcmp) at (2302,3100) {+bit\\+dct264_sad\\+dct_max\\+dct_sad\\+frame_skip_cmp\\+hadamard8_diff\\+ildct_cmp\\+mb_cmp\\+me_cmp\\+me_pre_cmp\\...};
  \node[elabel] (lmeccmpeg) at (2408,3098) {+mecc};
  \node[elabel] (ler) at (2477,3330) {+er};
  \node[elabel] (lmeccer) at (1688,3487) {+mecc};
  \node[elabel, anchor=west] (lthread) at (2551,2883) {+thread_context};
\end{tikzpicture}
\end{document}
